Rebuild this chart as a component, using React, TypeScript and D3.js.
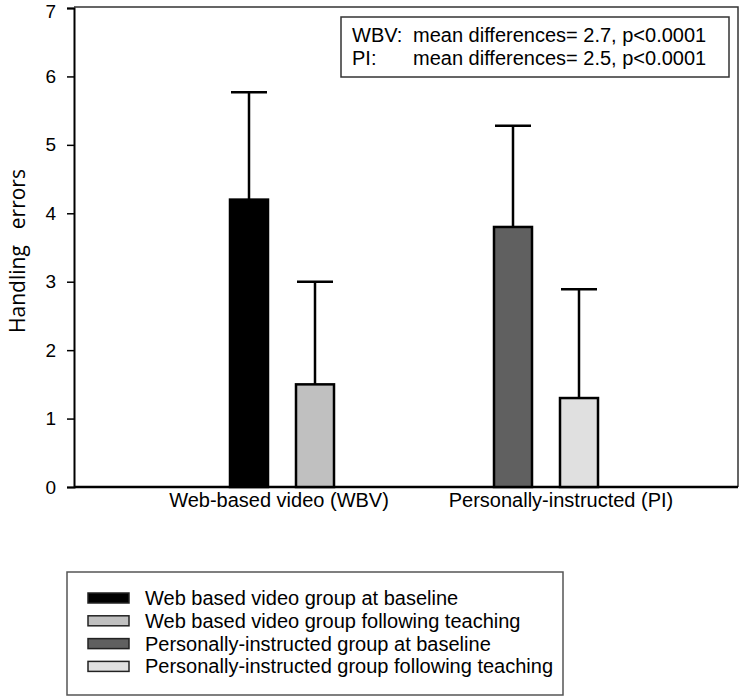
import React, { useEffect, useRef } from 'react';
import * as d3 from 'd3';

// data
const groups = ['Web-based video (WBV)', 'Personally-instructed (PI)'];
const seriesNames = [
  'Web based video group at baseline',
  'Web based video group following teaching',
  'Personally-instructed group at baseline',
  'Personally-instructed group following teaching',
];
const seriesGroup = [0, 0, 1, 1];
const seriesPhase = ['baseline', 'following', 'baseline', 'following'];
const means = [4.2, 1.5, 3.8, 1.3];
const sds = [1.57, 1.5, 1.48, 1.59];
const yTicks = [0, 1, 2, 3, 4, 5, 6, 7];
const noteLabels = ['WBV:', 'PI:'];
const noteTexts = ['mean differences= 2.7, p<0.0001', 'mean differences= 2.5, p<0.0001'];
const yTitle = ['Handling', 'errors'];

const W = 740;
const H = 698;
const FONT = '"Liberation Sans", Arial, sans-serif';

const App = () => {
  const ref = useRef<SVGSVGElement | null>(null);

  useEffect(() => {
    const svg = d3.select(ref.current);
    svg.selectAll('*').remove();

    const left = 74;
    const right = 738;
    const top = 8;
    const bottom = 487;

    const y = d3.scaleLinear().domain([0, 7]).range([bottom, top]);
    const x0 = d3.scaleBand<string>().domain(groups).range([150, 678]);
    const slot = d3.scalePoint<string>().domain(['baseline', 'following']).range([-33, 33]);
    const labelX = d3.scalePoint<string>().domain(groups).range([279, 561]);
    const color = d3.scaleOrdinal<string, string>()
      .domain(seriesNames)
      .range(['#000000', '#c0c0c0', '#606060', '#e0e0e0']);

    const barW = 38;
    const cx = (i: number) => x0(groups[seriesGroup[i]])! + x0.bandwidth() / 2 + slot(seriesPhase[i])!;

    // frame (top + right)
    svg.append('path')
      .attr('d', `M${left},${top - 1}H${right}V${bottom}`)
      .attr('fill', 'none')
      .attr('stroke', '#333')
      .attr('stroke-width', 1.5);

    // y axis
    svg.append('g')
      .attr('transform', `translate(${left},0)`)
      .call(d3.axisLeft(y).tickValues(yTicks).tickFormat(d3.format('d')).tickSize(7).tickPadding(11))
      .call(g => g.select('.domain').attr('stroke', '#000').attr('stroke-width', 2))
      .call(g => g.selectAll('.tick line').attr('stroke', '#000').attr('stroke-width', 1.5))
      .call(g => g.selectAll<SVGTextElement, number>('.tick text')
        .attr('fill', '#000')
        .attr('dy', d => (d === 7 ? '0.5em' : '0.32em'))
        .style('font-family', FONT)
        .style('font-size', '19px'));

    // x axis line
    svg.append('line')
      .attr('x1', left).attr('x2', right)
      .attr('y1', bottom).attr('y2', bottom)
      .attr('stroke', '#000')
      .attr('stroke-width', 2.5);

    // category labels
    svg.append('g')
      .selectAll('text')
      .data(groups)
      .enter().append('text')
      .attr('x', d => labelX(d)!)
      .attr('y', bottom + 20)
      .attr('text-anchor', 'middle')
      .style('font-family', FONT)
      .style('font-size', '20px')
      .text(d => d);

    // y title
    const yt = svg.append('text')
      .attr('transform', `translate(25,251) rotate(-90)`)
      .attr('text-anchor', 'middle')
      .style('font-family', '"Open Sans", sans-serif')
      .style('font-size', '21px');
    yt.append('tspan').text(yTitle[0]);
    yt.append('tspan').attr('dx', 16).text(yTitle[1]);

    const idx = d3.range(means.length);

    // error bars
    const eb = svg.append('g');
    eb.selectAll('line.v')
      .data(idx)
      .enter().append('line')
      .attr('class', 'v')
      .attr('x1', cx).attr('x2', cx)
      .attr('y1', i => y(means[i]))
      .attr('y2', i => y(means[i] + sds[i]))
      .attr('stroke', '#000')
      .attr('stroke-width', 2.5);
    eb.selectAll('line.cap')
      .data(idx)
      .enter().append('line')
      .attr('class', 'cap')
      .attr('x1', i => cx(i) - 18).attr('x2', i => cx(i) + 18)
      .attr('y1', i => y(means[i] + sds[i]))
      .attr('y2', i => y(means[i] + sds[i]))
      .attr('stroke', '#000')
      .attr('stroke-width', 2.5);

    // bars
    svg.append('g')
      .selectAll('rect')
      .data(idx)
      .enter().append('rect')
      .attr('x', i => cx(i) - barW / 2)
      .attr('y', i => y(means[i]))
      .attr('width', barW)
      .attr('height', i => y(0) - y(means[i]))
      .attr('fill', i => color(seriesNames[i]))
      .attr('stroke', '#000')
      .attr('stroke-width', 2.5);

    // annotation box
    const note = svg.append('g');
    note.append('rect')
      .attr('x', 341).attr('y', 17)
      .attr('width', 388).attr('height', 60)
      .attr('fill', '#fff')
      .attr('stroke', '#333')
      .attr('stroke-width', 1.5);
    noteLabels.forEach((lab, i) => {
      note.append('text')
        .attr('x', 352).attr('y', 42 + i * 23)
        .style('font-family', FONT).style('font-size', '20px')
        .text(lab);
      note.append('text')
        .attr('x', 413).attr('y', 42 + i * 23)
        .style('font-family', FONT).style('font-size', '20px')
        .text(noteTexts[i]);
    });

    // legend
    const lg = svg.append('g');
    lg.append('rect')
      .attr('x', 67).attr('y', 572)
      .attr('width', 496).attr('height', 123)
      .attr('fill', '#fff')
      .attr('stroke', '#555')
      .attr('stroke-width', 1.5);
    const rows = lg.selectAll('g.row')
      .data(seriesNames)
      .enter().append('g')
      .attr('class', 'row')
      .attr('transform', (d, i) => `translate(0,${605 + i * 22.8})`);
    rows.append('rect')
      .attr('x', 88).attr('y', -12)
      .attr('width', 41).attr('height', 10)
      .attr('fill', d => color(d))
      .attr('stroke', '#222')
      .attr('stroke-width', 1.5);
    rows.append('text')
      .attr('x', 145).attr('y', 0)
      .style('font-family', FONT)
      .style('font-size', '20px')
      .text(d => d);
  }, []);

  return (
    <svg
      ref={ref}
      width={W}
      height={H}
      style={{ position: 'absolute', left: 0, top: 0, background: '#fff' }}
    />
  );
};

export default App;
